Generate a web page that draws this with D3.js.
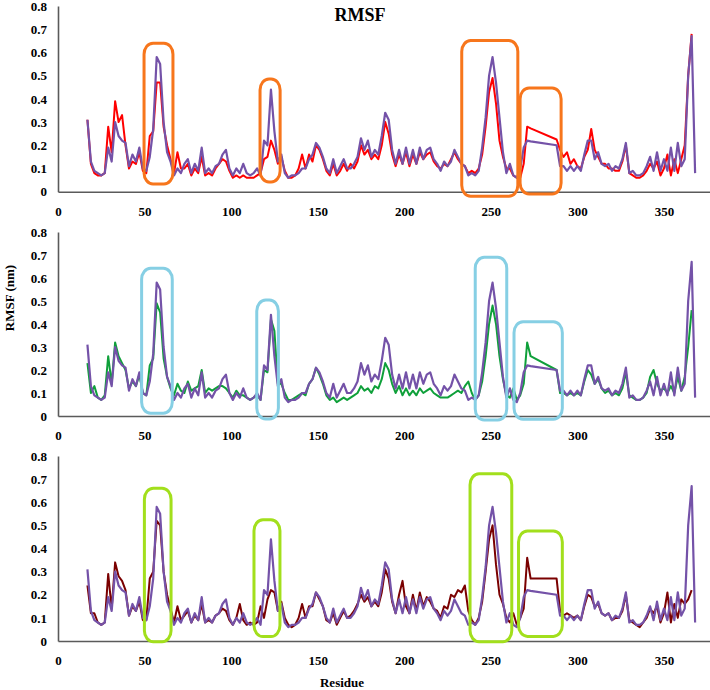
<!DOCTYPE html>
<html>
<head>
<meta charset="utf-8">
<script src="https://cdn.jsdelivr.net/npm/d3@7"></script>
<style>
  body { margin: 0; background: #fff; }
  svg { display: block; }
  text { font-family: "Liberation Serif", "Times New Roman", serif; font-weight: bold; fill: #000; }
</style>
</head>
<body>
<svg id="chart" width="710" height="690"></svg>
<script>
// residue numbers (x values), shared by every series
var residues = [17,19,21,23,25,27,29,31,33,35,37,39,41,43,45,47,49,51,53,55,57,59,61,63,65,67,69,71,73,75,
  77,79,81,83,85,87,89,91,93,95,97,99,101,103,105,107,109,111,113,115,117,119,121,123,125,127,129,131,133,135,
  137,139,141,143,145,147,149,151,153,155,157,159,161,163,165,167,169,171,173,175,177,179,181,183,185,187,189,191,193,195,
  197,199,201,203,205,207,209,211,213,215,217,219,221,223,225,227,229,231,233,235,237,239,241,243,245,247,249,251,253,255,
  257,259,261,263,265,267,269,271,273,288,290,292,294,296,298,300,302,304,306,308,310,312,314,316,318,320,322,324,326,328,
  330,332,334,336,338,340,342,344,346,348,350,352,354,356,358,360,362,364,366,368];

// purple reference trace (same in every panel)
var purple = [.31,.13,.09,.08,.07,.08,.19,.13,.30,.24,.22,.21,.11,.16,.13,.19,.10,.09,.15,.27,.58,.55,.30,.17,.13,.07,.10,.08,.12,.14,
  .08,.12,.09,.19,.08,.10,.08,.11,.12,.16,.18,.10,.07,.10,.08,.12,.08,.07,.08,.10,.07,.22,.20,.44,.26,.13,.16,.08,.06,.07,
  .07,.08,.10,.10,.14,.16,.21,.19,.15,.10,.08,.14,.08,.11,.14,.10,.10,.12,.15,.23,.18,.22,.15,.18,.16,.24,.34,.31,.18,.12,
  .18,.12,.19,.12,.18,.12,.19,.14,.18,.19,.14,.12,.09,.13,.11,.13,.18,.15,.12,.11,.07,.08,.07,.09,.19,.32,.50,.58,.47,.32,
  .17,.08,.12,.07,.06,.10,.19,.22,.217,.20,.11,.11,.09,.11,.09,.11,.09,.16,.22,.22,.14,.17,.12,.11,.12,.09,.11,.10,.14,.21,
  .08,.09,.07,.07,.08,.11,.15,.09,.17,.09,.14,.09,.19,.09,.21,.11,.14,.50,.67,.08];

var red = [.31,.12,.08,.07,.07,.08,.28,.17,.39,.30,.33,.20,.10,.13,.12,.17,.09,.08,.24,.26,.47,.47,.28,.20,.14,.08,.17,.10,.10,.12,
  .07,.10,.08,.15,.07,.08,.07,.10,.12,.14,.13,.09,.06,.07,.06,.07,.06,.06,.06,.07,.08,.14,.15,.22,.18,.12,.15,.09,.06,.06,
  .07,.10,.16,.10,.16,.13,.20,.18,.14,.09,.07,.12,.07,.09,.12,.09,.12,.10,.13,.20,.16,.18,.14,.16,.14,.20,.30,.25,.16,.11,
  .16,.12,.17,.11,.16,.12,.17,.14,.16,.17,.13,.11,.10,.12,.11,.14,.17,.14,.12,.11,.08,.09,.08,.10,.16,.28,.43,.49,.38,.22,
  .15,.10,.10,.07,.06,.06,.12,.28,.273,.225,.18,.15,.17,.12,.14,.11,.10,.15,.18,.27,.18,.15,.12,.12,.10,.10,.09,.09,.13,.20,
  .08,.07,.06,.06,.07,.09,.12,.10,.13,.07,.10,.16,.07,.14,.08,.14,.20,.50,.68,null];

var green = [.23,.10,.13,.08,.07,.09,.26,.14,.32,.26,.23,.20,.12,.15,.13,.18,.10,.09,.22,.25,.49,.45,.25,.17,.12,.09,.14,.11,.10,.15,
  .11,.12,.13,.20,.10,.12,.11,.12,.13,.13,.12,.10,.08,.11,.09,.09,.08,.07,.08,.09,.07,.20,.19,.42,.37,.14,.14,.10,.07,.07,
  .08,.09,.10,.09,.14,.16,.21,.18,.14,.09,.07,.08,.06,.07,.08,.07,.08,.09,.10,.13,.11,.12,.10,.13,.12,.16,.23,.20,.14,.10,
  .13,.09,.12,.09,.11,.09,.12,.10,.11,.12,.10,.09,.08,.08,.08,.09,.10,.11,.10,.13,.15,.10,.07,.09,.15,.26,.40,.48,.40,.26,
  .16,.09,.08,.12,.07,.09,.14,.32,.26,.20,.10,.10,.09,.10,.09,.10,.09,.15,.20,.18,.14,.16,.12,.10,.11,.09,.10,.09,.12,.19,
  .09,.08,.07,.07,.08,.10,.17,.20,.14,.11,.12,.10,.13,.10,.17,.11,.17,.30,.46,null];

var darkRed = [.24,.12,.12,.08,.07,.08,.29,.14,.34,.28,.26,.22,.11,.15,.13,.17,.09,.09,.27,.30,.52,.50,.30,.20,.14,.08,.15,.09,.11,.13,
  .08,.11,.09,.16,.08,.09,.08,.11,.12,.14,.13,.09,.07,.10,.16,.09,.07,.08,.07,.08,.15,.10,.18,.22,.21,.13,.17,.10,.07,.06,
  .07,.10,.16,.10,.15,.15,.21,.18,.15,.09,.08,.12,.07,.10,.13,.10,.11,.13,.16,.20,.17,.19,.15,.17,.15,.21,.31,.27,.17,.12,
  .20,.26,.15,.12,.20,.13,.21,.15,.19,.17,.14,.13,.10,.15,.14,.20,.19,.22,.21,.24,.13,.09,.07,.10,.17,.30,.44,.50,.33,.20,
  .16,.10,.08,.12,.07,.10,.14,.36,.27,.27,.13,.11,.12,.11,.10,.11,.09,.15,.20,.19,.15,.16,.12,.11,.12,.09,.10,.10,.13,.20,
  .09,.08,.07,.06,.08,.10,.14,.12,.15,.08,.12,.21,.08,.16,.10,.18,.16,.18,.22,null];

// highlighted regions per panel: [residue from, residue to, value low, value high]
var boxesTop = [[49.7, 66.4, 0.033, 0.64], [116.7, 128.3, 0.042, 0.486], [233.2, 265.6, -0.02, 0.651], [266.9, 290.6, -0.01, 0.447]];
var boxesMid = [[48.3, 66.0, 0.012, 0.642], [114.8, 127.3, -0.013, 0.504], [241.0, 259.2, -0.017, 0.69], [263.4, 291.3, -0.014, 0.41]];
var boxesBot = [[49.9, 65.3, -0.003, 0.661], [113.2, 128.2, 0.019, 0.524], [238.0, 262.1, -0.003, 0.723], [266.0, 291.3, 0.02, 0.476]];

var xTicks = [0, 50, 100, 150, 200, 250, 300, 350];
var yTicks = [0, 0.1, 0.2, 0.3, 0.4, 0.5, 0.6, 0.7, 0.8];

var serif = "'Liberation Serif', 'Times New Roman', serif";
var svg = d3.select("#chart");

var x = d3.scaleLinear().domain([0, 376.6]).range([58, 710]);

var panels = [
  { bottom: 191.7, top: 6, other: red, otherColor: "#ff0000", boxes: boxesTop, boxColor: "#f7761c" },
  { bottom: 416, top: 232, other: green, otherColor: "#0fa03a", boxes: boxesMid, boxColor: "#86cfe4" },
  { bottom: 641, top: 456, other: darkRed, otherColor: "#7a0000", boxes: boxesBot, boxColor: "#a2df1c" }
];

panels.forEach(function (p) {
  var y = d3.scaleLinear().domain([0, 0.8]).range([p.bottom, p.top]);
  var g = svg.append("g");

  // axes
  var xAxis = g.append("g")
    .attr("transform", "translate(0," + p.bottom + ")")
    .call(d3.axisBottom(x).tickValues(xTicks).tickSize(0).tickPadding(15).tickFormat(d3.format("d")));
  var yAxis = g.append("g")
    .attr("transform", "translate(58,0)")
    .call(d3.axisLeft(y).tickValues(yTicks).tickSize(0).tickPadding(11).tickFormat(function (d) { return d === 0 ? "0" : d3.format(".1f")(d); }));
  [xAxis, yAxis].forEach(function (a) {
    a.attr("font-family", serif).attr("font-size", 13).attr("font-weight", "bold");
    a.select(".domain").attr("stroke", "#5a5a5a").attr("stroke-width", 1.6);
    a.selectAll("text").attr("fill", "#000");
  });

  var line = d3.line()
    .defined(function (d) { return d[1] != null; })
    .x(function (d) { return x(d[0]); })
    .y(function (d) { return y(d[1]); });

  g.append("path")
    .attr("d", line(residues.map(function (r, i) { return [r, p.other[i]]; })))
    .attr("fill", "none")
    .attr("stroke", p.otherColor)
    .attr("stroke-width", 2)
    .attr("stroke-linejoin", "round");

  g.append("path")
    .attr("d", line(residues.map(function (r, i) { return [r, purple[i]]; })))
    .attr("fill", "none")
    .attr("stroke", "#7452a8")
    .attr("stroke-width", 2.2)
    .attr("stroke-linejoin", "round");

  // highlight boxes
  g.selectAll(".box")
    .data(p.boxes)
    .enter()
    .append("rect")
    .attr("class", "box")
    .attr("x", function (d) { return x(d[0]); })
    .attr("y", function (d) { return y(d[3]); })
    .attr("width", function (d) { return x(d[1]) - x(d[0]); })
    .attr("height", function (d) { return y(d[2]) - y(d[3]); })
    .attr("rx", 9)
    .attr("ry", 11)
    .attr("fill", "none")
    .attr("stroke", p.boxColor)
    .attr("stroke-width", 3);
});

svg.append("text")
  .attr("x", 360)
  .attr("y", 21)
  .attr("text-anchor", "middle")
  .style("font-size", "18px")
  .text("RMSF");

svg.append("text")
  .attr("transform", "translate(14,298) rotate(-90)")
  .attr("text-anchor", "middle")
  .style("font-size", "13px")
  .text("RMSF (nm)");

svg.append("text")
  .attr("x", 342)
  .attr("y", 687)
  .attr("text-anchor", "middle")
  .style("font-size", "13px")
  .text("Residue");
</script>
</body>
</html>
